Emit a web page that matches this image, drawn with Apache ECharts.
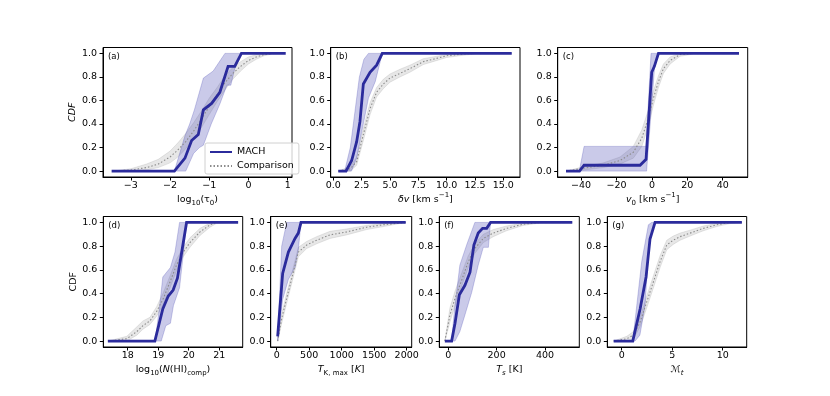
<!DOCTYPE html>
<html><head><meta charset="utf-8">
<script src="https://cdn.jsdelivr.net/npm/echarts@6/dist/echarts.min.js"></script>
<style>html,body{margin:0;padding:0;background:#fff}#c{width:830px;height:396px}</style>
</head><body><div id="c"></div>
<script>
// ---------- data ----------
// (a) log10(tau0)
const aMachX = [-3.49,-1.89,-1.62,-1.45,-1.28,-1.15,-0.94,-0.73,-0.52,-0.35,-0.18,0.95];
const aMachY = [0,0,0.11,0.26,0.31,0.52,0.575,0.67,0.89,0.89,1,1];
const aBandHiX = [-1.89,-1.8,-1.62,-1.5,-1.38,-1.15,-0.9,-0.7,-0.6,-0.18];
const aBandHiY = [0,0.1,0.3,0.4,0.52,0.79,0.85,0.95,1,1];
const aBandLoX = [-1.89,-1.6,-1.4,-1.25,-1.15,-0.95,-0.73,-0.55,-0.45,-0.35,-0.18];
const aBandLoY = [0,0,0.15,0.2,0.22,0.4,0.57,0.73,0.73,0.87,1];
const aCmpX = [-3.45,-3.0,-2.6,-2.3,-2.0,-1.8,-1.6,-1.4,-1.2,-1.0,-0.8,-0.6,-0.4,-0.2,0.0,0.2,0.4,0.6,0.9];
const aCmpY = [0,0.01,0.03,0.06,0.12,0.18,0.25,0.34,0.44,0.55,0.65,0.75,0.83,0.89,0.94,0.97,0.99,1,1];
const aCmpLo = [0,0,0.01,0.03,0.07,0.12,0.19,0.27,0.37,0.48,0.59,0.69,0.78,0.85,0.91,0.95,0.98,0.995,1];
const aCmpHi = [0,0.02,0.06,0.10,0.17,0.24,0.32,0.41,0.51,0.62,0.71,0.81,0.88,0.93,0.97,0.99,1,1,1];
// (b) delta v
const bMachX = [0.44,1.12,1.62,2.06,2.35,2.65,3.24,3.82,4.32,15.74];
const bMachY = [0,0,0.09,0.25,0.42,0.74,0.84,0.9,1,1];
const bBandHiX = [1.0,1.5,1.9,2.3,2.7,3.1,4.32];
const bBandHiY = [0,0.2,0.5,0.8,0.95,1,1];
const bBandLoX = [1.0,1.6,2.06,2.5,3.1,3.7,4.32];
const bBandLoY = [0,0,0.11,0.33,0.62,0.76,1];
const bCmpX = [0.44,1.5,2.06,2.65,3.24,3.82,4.41,5.0,5.88,6.76,7.94,8.8,10.0,11.5,12.6,15.74];
const bCmpY = [0,0.02,0.08,0.31,0.53,0.67,0.74,0.79,0.83,0.87,0.93,0.95,0.98,0.995,1,1];
const bCmpLo = [0,0,0.05,0.26,0.48,0.63,0.70,0.755,0.80,0.84,0.905,0.93,0.965,0.985,0.995,1];
const bCmpHi = [0,0.04,0.12,0.36,0.58,0.71,0.78,0.825,0.865,0.9,0.955,0.97,0.99,1,1,1];
// (c) v0
const cMachX = [-48.5,-40.9,-38.3,-6.7,-3.3,-0.1,1.4,3.7,49.2];
const cMachY = [0,0,0.05,0.05,0.1,0.84,0.89,1,1];
const cBandHiX = [-41,-38.3,-3.3,-0.5,3.7];
const cBandHiY = [0,0.21,0.21,1,1];
const cBandLoX = [-41,-3.0,-2.5,1.5,3.7];
const cBandLoY = [0,0,0.1,0.88,1];
const cCmpX = [-48.5,-40.6,-27.4,-18,-10.5,-5.7,-2,0.85,3.7,6.5,10.3,15.9,23.4,49.2];
const cCmpY = [0,0.02,0.05,0.09,0.16,0.28,0.45,0.62,0.76,0.87,0.94,0.99,1,1];
const cCmpLo = [0,0.005,0.03,0.06,0.11,0.21,0.38,0.56,0.71,0.83,0.91,0.975,0.995,1];
const cCmpHi = [0,0.03,0.07,0.12,0.21,0.35,0.52,0.68,0.81,0.91,0.97,1,1,1];
// (d) log10 N(HI)
const dMachX = [17.35,18.89,19.15,19.33,19.49,19.63,19.93,21.62];
const dMachY = [0,0,0.27,0.38,0.43,0.53,1,1];
const dBandHiX = [18.9,19.05,19.15,19.4,19.55,19.7,19.93];
const dBandHiY = [0,0.3,0.54,0.62,0.75,1,1];
const dBandLoX = [18.9,19.1,19.25,19.4,19.5,19.7,19.85,19.93];
const dBandLoY = [0,0,0.13,0.15,0.3,0.45,0.8,1];
const dCmpX = [17.35,17.97,18.3,18.5,18.73,18.95,19.17,19.39,19.6,19.82,20.04,20.37,20.7,20.9,21.62];
const dCmpY = [0,0.02,0.08,0.13,0.17,0.25,0.36,0.5,0.64,0.75,0.83,0.92,0.98,1,1];
const dCmpLo = [0,0,0.05,0.1,0.14,0.21,0.31,0.45,0.59,0.71,0.79,0.89,0.96,0.99,1];
const dCmpHi = [0,0.04,0.12,0.17,0.2,0.29,0.41,0.55,0.69,0.79,0.87,0.95,0.995,1,1];
// (e) T_K,max
const eMachX = [15,92,180,282,333,374,1985];
const eMachY = [0.04,0.57,0.75,0.865,0.91,1,1];
const eBandHiX = [15,77,154,374];
const eBandHiY = [0,0.8,1,1];
const eBandLoX = [15,92,180,282,333,374];
const eBandLoY = [0,0.35,0.52,0.62,0.77,1];
const eCmpX = [15,77,154,256,333,462,615,820,1077,1385,1641,1985];
const eCmpY = [0,0.19,0.36,0.58,0.75,0.81,0.85,0.895,0.92,0.96,0.98,1];
const eCmpLo = [0,0.15,0.32,0.54,0.71,0.78,0.82,0.865,0.895,0.94,0.965,1];
const eCmpHi = [0,0.23,0.4,0.62,0.79,0.84,0.88,0.925,0.945,0.975,0.99,1];
// (f) T_s
const fMachX = [-14,14,28,46,69,90,106,124,142,159,175,513];
const fMachY = [0,0,0.15,0.39,0.47,0.58,0.81,0.91,0.95,0.95,1,1];
const fBandHiX = [14,25,48,76,110,175];
const fBandHiY = [0,0.25,0.64,0.81,1,1];
const fBandLoX = [28,48,69,97,124,145,166,175];
const fBandLoY = [0,0.08,0.22,0.41,0.64,0.79,0.79,1];
const fCmpX = [-14,7,28,55,83,110,145,186,241,310,379,513];
const fCmpY = [0,0.22,0.36,0.51,0.67,0.78,0.865,0.91,0.95,0.985,1,1];
const fCmpLo = [0,0.16,0.3,0.46,0.62,0.74,0.83,0.88,0.93,0.975,0.995,1];
const fCmpHi = [0,0.28,0.42,0.57,0.72,0.82,0.9,0.94,0.97,0.995,1,1];
// (g) M_t
const gMachX = [-0.8,1.09,1.82,2.41,2.8,3.3,11.9];
const gMachY = [0,0,0.27,0.54,0.86,1,1];
const gBandHiX = [1.09,1.49,1.98,2.64,2.97,3.3];
const gBandHiY = [0,0.3,0.67,0.98,1,1];
const gBandLoX = [1.09,1.32,1.8,2.31,2.54,2.8,3.3];
const gBandLoY = [0,0,0.05,0.3,0.61,0.86,1];
const gCmpX = [-0.8,0.5,1.16,1.82,2.48,3.14,3.8,4.46,5.1,5.78,6.77,8.09,9.4,10.7,11.9];
const gCmpY = [0,0.02,0.05,0.16,0.33,0.5,0.67,0.81,0.85,0.88,0.91,0.95,0.98,1,1];
const gCmpLo = [0,0,0.02,0.12,0.28,0.45,0.62,0.77,0.815,0.85,0.885,0.93,0.965,0.99,1];
const gCmpHi = [0,0.04,0.08,0.2,0.38,0.55,0.72,0.85,0.885,0.91,0.935,0.97,0.99,1,1];

// tick labels
const yTicks = [0,0.2,0.4,0.6,0.8,1.0];
const aTicks = [-3,-2,-1,0,1];
const bTicks = [0,2.5,5,7.5,10,12.5,15];
const cTicks = [-40,-20,0,20,40];
const dTicks = [18,19,20,21];
const eTicks = [0,500,1000,1500,2000];
const fTicks = [0,200,400];
const gTicks = [0,5,10];
const panelLabels = ['(a)','(b)','(c)','(d)','(e)','(f)','(g)'];
const xNames = [
  'log{sub|10}(τ{sub|0})',
  '{i|δv} [km s{sup|−1}]',
  '{i|v}{sub|0} [km s{sup|−1}]',
  'log{sub|10}({i|N}(HI){sub|comp})',
  '{i|T}{sub|K, max} [{i|K}]',
  '{i|T}{isub|s} [K]',
  '{i|ℳ}{isub|t}'
];

// ---------- layout ----------
const FONT = 'DejaVu Sans';
const MACH_C = '#2b2b9c';
const grids = [
  {l:103,t:47.5,w:189,h:129.5},
  {l:330.7,t:47.5,w:189.3,h:129.5},
  {l:557.7,t:47.5,w:190,h:129.5},
  {l:103.3,t:216.5,w:139.4,h:130.5},
  {l:270.7,t:216.5,w:141,h:130.5},
  {l:439.3,t:216.5,w:140,h:130.5},
  {l:607.3,t:216.5,w:139.4,h:130.5}
];
const xr = [[-3.71,1.11],[-0.23,16.47],[-53.2,54.1],[17.2,21.77],[-92,2077],[-37,542],[-1.43,12.38]];
const xt = [aTicks,bTicks,cTicks,dTicks,eTicks,fTicks,gTicks];
const xfmt = [null,1,null,null,null,null,null];

const P = [
  [aMachX,aMachY,aBandHiX,aBandHiY,aBandLoX,aBandLoY,aCmpX,aCmpY,aCmpLo,aCmpHi],
  [bMachX,bMachY,bBandHiX,bBandHiY,bBandLoX,bBandLoY,bCmpX,bCmpY,bCmpLo,bCmpHi],
  [cMachX,cMachY,cBandHiX,cBandHiY,cBandLoX,cBandLoY,cCmpX,cCmpY,cCmpLo,cCmpHi],
  [dMachX,dMachY,dBandHiX,dBandHiY,dBandLoX,dBandLoY,dCmpX,dCmpY,dCmpLo,dCmpHi],
  [eMachX,eMachY,eBandHiX,eBandHiY,eBandLoX,eBandLoY,eCmpX,eCmpY,eCmpLo,eCmpHi],
  [fMachX,fMachY,fBandHiX,fBandHiY,fBandLoX,fBandLoY,fCmpX,fCmpY,fCmpLo,fCmpHi],
  [gMachX,gMachY,gBandHiX,gBandHiY,gBandLoX,gBandLoY,gCmpX,gCmpY,gCmpLo,gCmpHi]
];
const pairs = (xs,ys)=>xs.map((x,i)=>[x,ys[i]]);
const minus = s => String(s).replace('-','−');
const rich = {
  sub:{fontSize:7,fontFamily:FONT,color:'#000',verticalAlign:'bottom',lineHeight:15},
  isub:{fontSize:7,fontFamily:FONT,color:'#000',verticalAlign:'bottom',lineHeight:15,fontStyle:'italic'},
  sup:{fontSize:7,fontFamily:FONT,color:'#000',verticalAlign:'top',lineHeight:15},
  i:{fontSize:9.5,fontFamily:FONT,color:'#000',fontStyle:'italic',lineHeight:15}
};

function polySeries(i, poly, fill, stroke){
  return {type:'custom', xAxisIndex:i, yAxisIndex:i, silent:true, clip:true,
    data:[[poly[0][0],poly[0][1]]],
    renderItem:(params,api)=>({type:'polygon',
      shape:{points:poly.map(p=>api.coord(p))},
      style:{fill:fill,stroke:stroke,lineWidth:0.8}})};
}

const option = {animation:false, grid:[], xAxis:[], yAxis:[], series:[], graphic:[],
  legend:{show:true, left:205, top:143, orient:'vertical',
    data:[{name:'MACH'},{name:'Comparison'}],
    itemWidth:22, itemHeight:8, itemGap:4, padding:[4,5,3,4],
    itemStyle:{opacity:0},
    borderColor:'#d0d0d0', borderWidth:1, borderRadius:2, backgroundColor:'rgba(255,255,255,0.8)',
    textStyle:{fontFamily:FONT,fontSize:9.5,color:'#000'}, selectedMode:false}};

grids.forEach((g,i)=>{
  option.grid.push({left:g.l, top:g.t, width:g.w, height:g.h, show:true, borderColor:'#000', borderWidth:1, containLabel:false});
  const fx = xfmt[i];
  option.xAxis.push({gridIndex:i, type:'value', min:xr[i][0], max:xr[i][1],
    axisLine:{show:true,onZero:false,lineStyle:{color:'#000',width:1}},
    axisTick:{show:true,length:3.5,lineStyle:{color:'#000'},customValues:xt[i]},
    axisLabel:{customValues:xt[i], margin:4, color:'#000', fontSize:9.5, fontFamily:FONT,
      formatter:v=>minus(fx?Number(v).toFixed(fx):v)},
    splitLine:{show:false},
    name:xNames[i], nameLocation:'middle', nameGap:13,
    nameTextStyle:{fontFamily:FONT,fontSize:9.5,color:'#000',lineHeight:15,rich:rich}});
  option.yAxis.push({gridIndex:i, type:'value', min:-0.05, max:1.05,
    axisLine:{show:true,onZero:false,lineStyle:{color:'#000',width:1}},
    axisTick:{show:true,length:3.5,lineStyle:{color:'#000'},customValues:yTicks},
    axisLabel:{customValues:yTicks, margin:6, color:'#000', fontSize:9.5, fontFamily:FONT,
      formatter:v=>Number(v).toFixed(1)},
    splitLine:{show:false},
    name:(i===0||i===3)?'CDF':'', nameLocation:'middle', nameGap:20,
    nameTextStyle:{fontFamily:FONT,fontSize:9.5,color:'#000',fontStyle:i===0?'italic':'normal'}});
  const d = P[i];
  const machBand = pairs(d[2],d[3]).concat(pairs(d[4],d[5]).reverse());
  const cmpBand = pairs(d[6],d[9]).concat(pairs(d[6],d[8]).reverse());
  option.series.push(polySeries(i, cmpBand, 'rgba(160,160,160,0.25)', 'rgba(160,160,160,0.3)'));
  option.series.push(polySeries(i, machBand, 'rgba(60,60,175,0.27)', 'rgba(60,60,175,0.33)'));
  option.series.push({type:'line', name:'Comparison', xAxisIndex:i, yAxisIndex:i, data:pairs(d[6],d[7]),
    symbol:'none', showSymbol:false, lineStyle:{color:'#8c8c8c',width:1.1,type:[1.5,2]}, itemStyle:{color:'#8c8c8c'}, z:3});
  option.series.push({type:'line', name:'MACH', xAxisIndex:i, yAxisIndex:i, data:pairs(d[0],d[1]),
    symbol:'none', showSymbol:false, lineStyle:{color:MACH_C,width:2.8,join:'miter'}, itemStyle:{color:MACH_C}, z:4});
  option.graphic.push({type:'text', left:g.l+5, top:g.t+5,
    style:{text:panelLabels[i], font:'8.5px "DejaVu Sans"', fill:'#000'}, z:10});
});

const chart = echarts.init(document.getElementById('c'), null, {renderer:'canvas'});
chart.setOption(option);
</script></body></html>
